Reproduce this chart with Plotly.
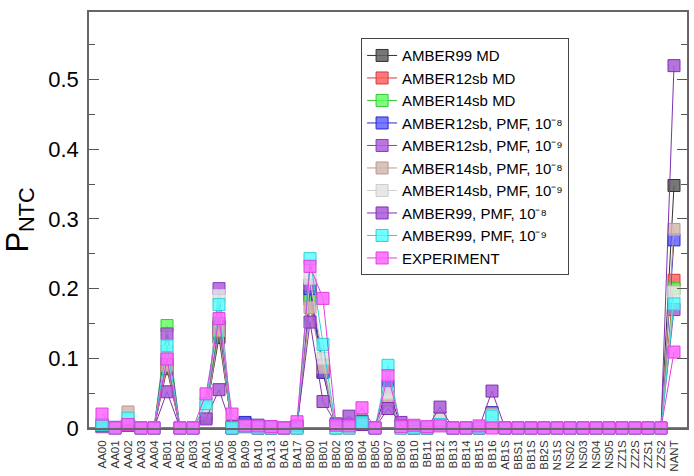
import plotly.graph_objects as go

categories = ["AA00","AA01","AA02","AA03","AA04","AB01","AB02","AB03","BA01","BA05","BA08","BA09","BA10","BA13","BA16","BA17",
              "BB00","BB01","BB02","BB03","BB04","BB05","BB07","BB08","BB10","BB11","BB12","BB13","BB14","BB15","BB16",
              "AB1S","BBS1","BB1S","BB2S","NS1S","NS02","NS03","NS04","NS05","ZZ1S","ZZ2S","ZZS1","ZZS2","NANT"]

Z13 = [0]*13

amber99_md   = [0.003,0,0.005,0,0,0.085,0,0,0.022,0.13,0.002,0.006,0.002,0.002,0,0.002,
                0.19,0.09,0.003,0.005,0.01,0,0.05,0.003,0.002,0,0.01,0,0,0,0.015] + Z13 + [0.348]
amber12_md   = [0.003,0,0.005,0,0,0.09,0,0,0.02,0.14,0,0.004,0,0,0,0,
                0.185,0.08,0,0.004,0.006,0,0.045,0,0,0,0.01,0,0,0,0.015] + Z13 + [0.212]
amber14_md   = [0.004,0,0.006,0,0,0.147,0,0,0.03,0.15,0,0.003,0,0,0,0,
                0.19,0.09,0,0,0.006,0,0.05,0,0,0,0.01,0,0,0,0.012] + Z13 + [0.2]
amber12_pmf8 = [0.002,0,0.004,0,0,0.1,0,0,0.02,0.145,0,0.008,0.004,0,0,0,
                0.2,0.08,0,0,0.006,0,0.06,0,0,0,0.008,0,0,0,0.022] + Z13 + [0.27]
amber12_pmf9 = [0.002,0,0.004,0,0,0.135,0,0,0.015,0.2,0,0.002,0,0,0,0,
                0.205,0.09,0,0.005,0.005,0,0.05,0,0,0,0.01,0,0,0,0.02] + Z13 + [0.17]
amber14_pmf8 = [0.003,0,0.023,0,0,0.09,0,0,0.02,0.14,0,0.002,0,0,0,0,
                0.173,0.087,0,0,0.005,0,0.04,0,0,0,0.015,0,0,0,0.02] + Z13 + [0.285]
amber14_pmf9 = [0.003,0,0.01,0,0,0.11,0,0,0.025,0.19,0,0.002,0,0,0,0,
                0.215,0.1,0,0,0.005,0,0.05,0,0,0,0.012,0,0,0,0.018] + Z13 + [0.195]
amber99_pmf8 = [0.003,0.001,0.005,0,0,0.052,0,0,0.013,0.055,0,0.003,0,0,0,0.003,
                0.152,0.038,0.006,0.017,0.005,0,0.028,0.008,0,0,0.03,0,0,0,0.053] + Z13 + [0.52]
amber99_pmf9 = [0.005,0,0.014,0,0,0.118,0,0,0.035,0.177,0,0.002,0,0,0,0,
                0.243,0.12,0,0,0.008,0,0.09,0,0,0,0.005,0,0,0,0.017] + Z13 + [0.178]
experiment   = [0.02,0,0.005,0,0,0.099,0,0,0.049,0.157,0.02,0.003,0.003,0.002,0,0.009,
                0.232,0.186,0.004,0.003,0.029,0,0.075,0.002,0.004,0.002,0.003,0,0,0.003,0] + Z13 + [0.109]

series_names = ["AMBER99 MD", "AMBER12sb MD", "AMBER14sb MD",
                "AMBER12sb, PMF, 10⁻⁸", "AMBER12sb, PMF, 10⁻⁹",
                "AMBER14sb, PMF, 10⁻⁸", "AMBER14sb, PMF, 10⁻⁹",
                "AMBER99, PMF, 10⁻⁸", "AMBER99, PMF, 10⁻⁹", "EXPERIMENT"]
series_values = [amber99_md, amber12_md, amber14_md, amber12_pmf8, amber12_pmf9,
                 amber14_pmf8, amber14_pmf9, amber99_pmf8, amber99_pmf9, experiment]
fills = ["rgba(95,95,95,0.85)", "rgba(255,90,90,0.8)", "rgba(90,255,90,0.8)", "rgba(90,90,255,0.8)",
         "rgba(175,95,220,0.85)", "rgba(210,185,175,0.85)", "rgba(228,228,228,0.85)",
         "rgba(170,90,215,0.85)", "rgba(80,255,255,0.8)", "rgba(255,100,255,0.85)"]
edges = ["#333333", "#d83838", "#38c838", "#2828c8", "#8a3cb8", "#b89a8c", "#cccccc",
         "#8030b0", "#30d0d0", "#e040e0"]

ticktext_y = ["0", "0.1", "0.2", "0.3", "0.4", "0.5"]
tickvals_y = [0, 0.1, 0.2, 0.3, 0.4, 0.5]

fig = go.Figure()
for name, vals, fc, ec in zip(series_names, series_values, fills, edges):
    assert len(vals) == len(categories)
    fig.add_trace(go.Scatter(
        x=list(range(len(categories))), y=vals, name=name, mode="lines+markers",
        line=dict(color=ec, width=1),
        marker=dict(symbol="square", size=12, color=fc, line=dict(color=ec, width=1)),
        cliponaxis=False,
    ))

font = "Liberation Sans, Arial, sans-serif"
fig.update_layout(
    width=694, height=476,
    margin=dict(l=89, r=7, t=12, b=48),
    paper_bgcolor="white", plot_bgcolor="white",
    font=dict(family=font, color="black"),
    showlegend=True,
    legend=dict(x=0.455, y=0.937, xanchor="left", yanchor="top",
                bgcolor="white", bordercolor="#444444", borderwidth=1,
                font=dict(size=15, family=font, color="black"),
                tracegroupgap=0, itemwidth=30),
    xaxis=dict(range=[-1, 45], tickmode="array", tickvals=list(range(len(categories))),
               ticktext=categories, tickangle=-90, tickfont=dict(size=11.5, color="#333333"),
               showgrid=False, zeroline=False, showline=True, linecolor="#666666", linewidth=1.5,
               mirror=True, ticks="", ticklabelstandoff=6, automargin=False),
    yaxis=dict(range=[0, 0.597], tickmode="array", tickvals=tickvals_y, ticktext=ticktext_y,
               tickfont=dict(size=22, color="black"), showgrid=False, zeroline=False,
               showline=True, linecolor="#666666", linewidth=1.5, mirror="ticks",
               ticks="inside", ticklen=10, tickcolor="#555555", tickwidth=1.2, automargin=False,
               ticklabelstandoff=4,
               minor=dict(tickvals=[0.05, 0.15, 0.25, 0.35, 0.45, 0.55], ticks="inside",
                          ticklen=6, tickcolor="#555555", tickwidth=1.2),
               title=dict(text="P<sub>NTC</sub>", font=dict(size=31, color="black"), standoff=12)),
)

fig.add_shape(type="line", xref="paper", yref="y", x0=0, x1=1, y0=0, y1=0,
              line=dict(color="#555555", width=1.5), layer="below")

fig.write_html("out.html", config={"displayModeBar": False},
               post_script="document.body.style.margin='0';document.body.style.overflow='hidden';")
